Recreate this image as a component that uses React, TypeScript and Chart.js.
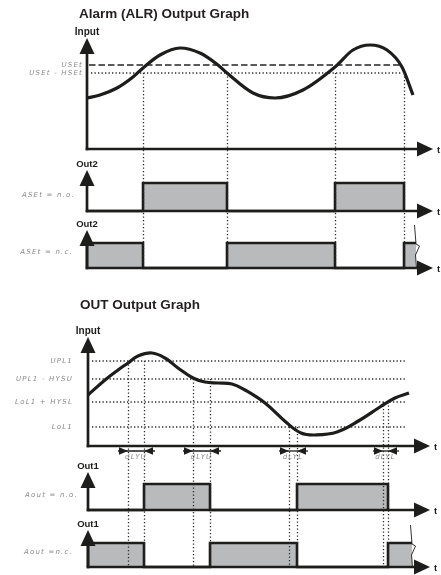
import { useEffect, useRef } from "react";
import { Chart, registerables } from "chart.js";

Chart.register(...registerables);

// ---------------- Alarm (ALR) section ----------------
const alrTime = [0, 13, 30, 46, 56, 73, 93, 113, 131, 140, 166, 188, 216, 248, 266, 283, 300, 315, 326];
const alrInput = [51, 54, 61, 72, 81, 94, 101, 96, 84, 76, 56, 51, 59, 82, 99, 104, 99, 82, 54];
const alrSetLevel = 84; // USEt
const alrResetLevel = 76; // USEt - HSEt
const alrSwitchTimes = [56, 140, 248, 317]; // on, off, on, off
const alrTraceEnd = 329;
const alrAxisEnd = 346;
const alrLevelEnd = 315;

// ---------------- OUT section ----------------
const outTime = [0, 17, 30, 40, 50, 64, 77, 90, 105, 117, 130, 144, 157, 177, 199, 213, 227, 249, 272, 292, 307, 321];
const outInput = [51, 66, 76, 83, 90, 93, 88, 78, 68, 64, 63, 62, 56, 43, 23, 13, 11, 14, 26, 39, 48, 53];
const outLevels = [85, 67, 44, 19];
const outLevelLabels = ["UPL1", "UPL1 - HYSU", "LoL1 + HYSL", "LoL1"];
const outCrossTimes = [40, 105, 201, 295];
const outCrossLevelIdx = [0, 1, 3, 2];
const outSwitchTimes = [56, 122, 209, 300]; // on, off, on, off
const outDelayLabels = ["dLYU", "dLYU", "dLYL", "dLYL"];
const outTraceEnd = 324;
const outAxisEnd = 342;
const outLevelEnd = 319;

const W = 441;
const H = 575;
const GREY = "#b9babc";
const INK = "#1d1d1b";
const SEG = "#8a8a8a";

function xBand(originPx: number) {
  return { type: "linear", axis: "x", display: false, bounds: "data", min: -originPx, max: W - originPx };
}
function yBand(zeroPx: number, pxPerUnit: number) {
  return {
    type: "linear",
    axis: "y",
    display: false,
    bounds: "data",
    min: -(H - zeroPx) / pxPerUnit,
    max: zeroPx / pxPerUnit,
  };
}

function zip(xs: number[], ys: number[]) {
  return xs.map((x, i) => ({ x, y: ys[i] }));
}
function waveNO(sw: number[]) {
  const pts = [{ x: 0, y: 0 }];
  sw.forEach((t, i) => {
    const on = i % 2 === 0;
    pts.push({ x: t, y: on ? 0 : 1 }, { x: t, y: on ? 1 : 0 });
  });
  return pts;
}
function waveNC(sw: number[], end: number) {
  const pts = [{ x: 0, y: 0 }, { x: 0, y: 1 }];
  sw.forEach((t, i) => {
    const on = i % 2 === 0;
    pts.push({ x: t, y: on ? 1 : 0 }, { x: t, y: on ? 0 : 1 });
  });
  pts.push({ x: end, y: sw.length % 2 === 0 ? 1 : 0 });
  return pts;
}

const DOT = [1.3, 2.2];

function lineDs(data: any[], xAxisID: string, yAxisID: string, extra: any) {
  return {
    data,
    xAxisID,
    yAxisID,
    pointRadius: 0,
    fill: false,
    tension: 0,
    ...extra,
  };
}

const diagramPlugin = {
  id: "diagram",
  afterDatasetsDraw(chart: any) {
    const ctx: CanvasRenderingContext2D = chart.ctx;
    const s = chart.scales;
    const seg = (x1: number, y1: number, x2: number, y2: number) => {
      ctx.beginPath();
      ctx.moveTo(x1, y1);
      ctx.lineTo(x2, y2);
      ctx.stroke();
    };
    const tri = (pts: number[][]) => {
      ctx.beginPath();
      ctx.moveTo(pts[0][0], pts[0][1]);
      for (let i = 1; i < pts.length; i++) ctx.lineTo(pts[i][0], pts[i][1]);
      ctx.closePath();
      ctx.fill();
    };
    ctx.save();

    // vertical dotted guide lines
    ctx.setLineDash(DOT);
    ctx.strokeStyle = "#2b2b2b";
    ctx.lineWidth = 1.3;
    alrSwitchTimes.forEach((t) => {
      const x = Math.round(s.xA.getPixelForValue(t)) + 0.5;
      seg(x, s.yA0.getPixelForValue(alrResetLevel), x, s.yA2.getPixelForValue(0));
    });
    outCrossTimes.forEach((t, i) => {
      const lvl = outLevels[outCrossLevelIdx[i]];
      [t, outSwitchTimes[i]].forEach((tt) => {
        const x = Math.round(s.xB.getPixelForValue(tt)) + 0.5;
        seg(x, s.yB0.getPixelForValue(lvl), x, s.yB2.getPixelForValue(0));
      });
    });
    ctx.setLineDash([]);

    // axes with arrows
    const panels: [string, string, number, number, string][] = [
      ["xA", "yA0", 111, alrAxisEnd, "Input"],
      ["xA", "yA1", 1.46, alrAxisEnd, "Out2"],
      ["xA", "yA2", 1.52, alrAxisEnd, "Out2"],
      ["xB", "yB0", 109, outAxisEnd, "Input"],
      ["xB", "yB1", 1.46, outAxisEnd, "Out1"],
      ["xB", "yB2", 1.54, outAxisEnd, "Out1"],
    ];
    ctx.strokeStyle = INK;
    ctx.fillStyle = INK;
    ctx.lineWidth = 2.7;
    ctx.lineCap = "butt";
    panels.forEach(([xid, yid, top, end, label]) => {
      const xs = s[xid];
      const ys = s[yid];
      const x0 = xs.getPixelForValue(0);
      const y0 = ys.getPixelForValue(0);
      const yT = ys.getPixelForValue(top);
      const xE = xs.getPixelForValue(end);
      seg(x0, y0 + 1.3, x0, yT + 12);
      seg(x0 - 1.3, y0, xE - 12, y0);
      tri([[x0, yT], [x0 - 7.5, yT + 16], [x0 + 7.5, yT + 16]]);
      tri([[xE, y0], [xE - 16, y0 - 7.5], [xE - 16, y0 + 7.5]]);
      ctx.textBaseline = "middle";
      ctx.textAlign = "center";
      ctx.font = (label === "Input" ? "bold 10px" : "bold 9.5px") + ' "Liberation Sans", Arial, sans-serif';
      ctx.fillText(label, x0, yT - 6);
      ctx.textAlign = "left";
      ctx.font = 'bold 9.5px "Liberation Sans", Arial, sans-serif';
      ctx.fillText("t", xE + 4, y0 + 1);
    });

    // break marks at the end of the n.c. traces
    ctx.lineWidth = 0.9;
    const zig = (x: number, yT: number, yB: number) => {
      ctx.beginPath();
      ctx.moveTo(x - 1.5, yT - 18);
      ctx.lineTo(x, yT + 1);
      ctx.lineTo(x + 3.5, yT + 3);
      ctx.lineTo(x - 0.5, yT + 12);
      ctx.lineTo(x + 0.5, yB);
      ctx.stroke();
    };
    zig(s.xA.getPixelForValue(alrTraceEnd), s.yA2.getPixelForValue(1), s.yA2.getPixelForValue(0));
    zig(s.xB.getPixelForValue(outTraceEnd), s.yB2.getPixelForValue(1), s.yB2.getPixelForValue(0));

    // delay arrows
    ctx.lineWidth = 1.3;
    const ya = s.yB0.getPixelForValue(-5);
    outCrossTimes.forEach((t, i) => {
      const xa = s.xB.getPixelForValue(t);
      const xb = s.xB.getPixelForValue(outSwitchTimes[i]);
      seg(xa - 10, ya, xb + 11, ya);
      tri([[xa, ya], [xa - 9, ya - 3.8], [xa - 9, ya + 3.8]]);
      tri([[xb, ya], [xb + 9, ya - 3.8], [xb + 9, ya + 3.8]]);
    });

    // titles
    ctx.fillStyle = "#231f20";
    ctx.textAlign = "left";
    ctx.textBaseline = "alphabetic";
    ctx.font = 'bold 13.5px "Liberation Sans", Arial, sans-serif';
    ctx.fillText("Alarm (ALR) Output Graph", 79, 17.5);
    ctx.fillText("OUT Output Graph", 80, 309);

    // display-style parameter labels
    ctx.fillStyle = SEG;
    ctx.font = 'italic 7px "DejaVu Sans", sans-serif';
    (ctx as any).letterSpacing = "1.2px";
    ctx.textAlign = "right";
    ctx.textBaseline = "middle";
    const xa0 = s.xA.getPixelForValue(0);
    const xb0 = s.xB.getPixelForValue(0);
    ctx.fillText("USEt", xa0 - 4, s.yA0.getPixelForValue(alrSetLevel));
    ctx.fillText("USEt - HSEt", xa0 - 4, s.yA0.getPixelForValue(alrResetLevel));
    ctx.fillText("ASEt = n.o.", xa0 - 12, s.yA1.getPixelForValue(0.57));
    ctx.fillText("ASEt = n.c.", xa0 - 14, s.yA2.getPixelForValue(0.64));
    outLevels.forEach((v, i) => {
      ctx.fillText(outLevelLabels[i], xb0 - 15, s.yB0.getPixelForValue(v));
    });
    ctx.fillText("Aout = n.o.", xb0 - 10, s.yB1.getPixelForValue(0.58));
    ctx.fillText("Aout =n.c.", xb0 - 15, s.yB2.getPixelForValue(0.62));
    ctx.textAlign = "center";
    const yl = s.yB0.getPixelForValue(-11);
    outCrossTimes.forEach((t, i) => {
      const xm = (s.xB.getPixelForValue(t) + s.xB.getPixelForValue(outSwitchTimes[i])) / 2;
      ctx.fillText(outDelayLabels[i], xm, yl);
    });
    ctx.restore();
  },
};

export default function App() {
  const ref = useRef<HTMLCanvasElement>(null);
  useEffect(() => {
    const dotted = { borderColor: "#2b2b2b", borderWidth: 1.3, borderDash: DOT };
    const wave = { borderColor: INK, borderWidth: 2.6, fill: "origin", backgroundColor: GREY, borderJoinStyle: "miter" };
    const curve = { borderColor: INK, borderWidth: 3.2, cubicInterpolationMode: "monotone" };
    const smoothCurve = { borderColor: INK, borderWidth: 3.2, tension: 0.4 };
    const chart = new Chart(ref.current as HTMLCanvasElement, {
      type: "line",
      data: {
        datasets: [
          lineDs(zip(alrTime, alrInput), "xA", "yA0", curve),
          lineDs(zip(outTime, outInput), "xB", "yB0", smoothCurve),
          lineDs([{ x: 2, y: alrSetLevel }, { x: alrLevelEnd - 1, y: alrSetLevel }], "xA", "yA0", {
            borderColor: "#5a5a5a",
            borderWidth: 1.8,
            borderDash: [6.5, 3],
          }),
          lineDs([{ x: 4, y: alrResetLevel }, { x: alrLevelEnd, y: alrResetLevel }], "xA", "yA0", dotted),
          ...outLevels.map((v) => lineDs([{ x: 4, y: v }, { x: outLevelEnd, y: v }], "xB", "yB0", dotted)),
          lineDs(waveNO(alrSwitchTimes), "xA", "yA1", wave),
          lineDs(waveNC(alrSwitchTimes, alrTraceEnd), "xA", "yA2", wave),
          lineDs(waveNO(outSwitchTimes), "xB", "yB1", wave),
          lineDs(waveNC(outSwitchTimes, outTraceEnd), "xB", "yB2", wave),
        ],
      },
      options: {
        responsive: false,
        animation: false,
        events: [],
        layout: { padding: 0 },
        plugins: { legend: { display: false }, tooltip: { enabled: false }, title: { display: false } },
        elements: { point: { radius: 0 } },
        scales: {
          xA: xBand(87),
          xB: xBand(88),
          yA0: yBand(149, 1),
          yA1: yBand(211, 28),
          yA2: yBand(268, 25),
          yB0: yBand(446, 1),
          yB1: yBand(510, 26),
          yB2: yBand(567, 24),
        },
      } as any,
      plugins: [diagramPlugin],
    } as any);
    return () => chart.destroy();
  }, []);
  return (
    <div style={{ position: "absolute", left: 0, top: 0, width: W, height: H, background: "#fff" }}>
      <canvas ref={ref} width={W} height={H} style={{ display: "block", width: W, height: H }} />
    </div>
  );
}
